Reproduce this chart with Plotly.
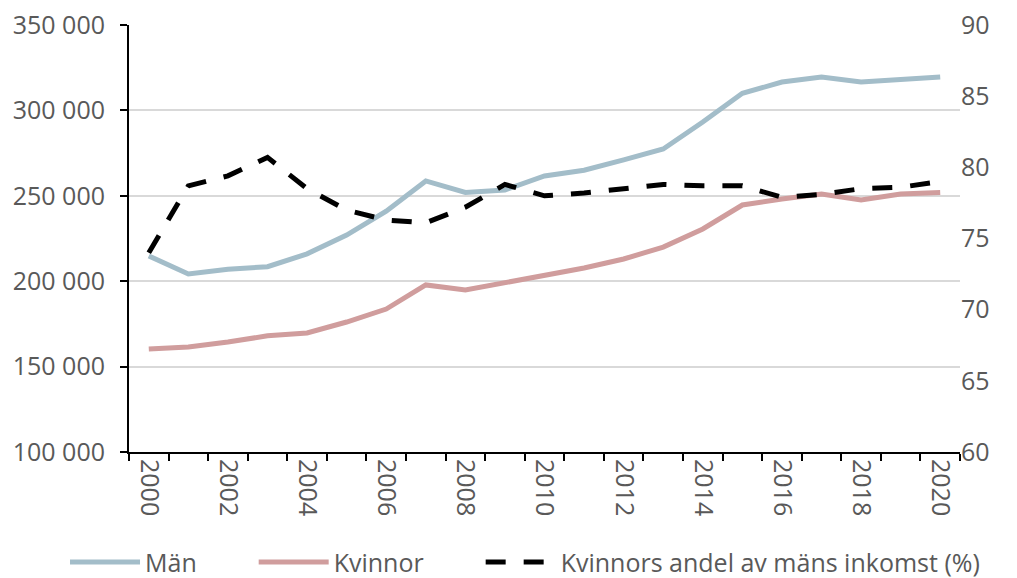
import plotly.graph_objects as go

years = list(range(2000, 2021))
man = [214800, 204200, 207000, 208500, 216000, 227000, 241000, 258700, 252000, 253400,
       261600, 265000, 271000, 277400, 293200, 310000, 316600, 319500, 316600, 318000, 319500]
kvinnor = [160300, 161500, 164400, 168000, 169700, 176100, 183700, 197800, 194800, 199000,
           203600, 207700, 213000, 220000, 230600, 244600, 248100, 251000, 247500, 251000, 252000]
andel = [74.0, 78.7, 79.4, 80.7, 78.5, 77.0, 76.3, 76.1, 77.2, 78.8,
         78.0, 78.2, 78.5, 78.8, 78.7, 78.7, 77.9, 78.1, 78.5, 78.6, 79.0]

left_ticks = [100000, 150000, 200000, 250000, 300000, 350000]
right_ticks = [60, 65, 70, 75, 80, 85, 90]
x_ticks = list(range(2000, 2021, 2))

FONT = "Open Sans"
GREY = "#595959"
FS = 25
PAD = "\u00a0" * 8

fig = go.Figure()
fig.add_trace(go.Scatter(x=years, y=man, name="Män" + PAD, mode="lines",
                         line=dict(color="#a3bdc9", width=5)))
fig.add_trace(go.Scatter(x=years, y=kvinnor, name="Kvinnor" + PAD, mode="lines",
                         line=dict(color="#d09d9d", width=5)))
fig.add_trace(go.Scatter(x=years, y=andel, name="Kvinnors andel av mäns inkomst (%)",
                         mode="lines", yaxis="y2",
                         line=dict(color="#000000", width=5, dash="20px,18px")))

fig.update_layout(
    width=1017, height=578,
    margin=dict(l=121, r=65, t=17, b=134, autoexpand=False),
    paper_bgcolor="white", plot_bgcolor="white",
    separators=", ",
    font=dict(family=FONT, size=FS, color=GREY),
    showlegend=True,
    legend=dict(orientation="h", x=-0.077, xanchor="left", y=-0.258, yanchor="middle",
                font=dict(family=FONT, size=FS, color=GREY), itemwidth=70,
                traceorder="normal", tracegroupgap=0),
    xaxis=dict(range=[1999.5, 2020.5], tickvals=x_ticks, ticktext=[str(y) for y in x_ticks],
               tickangle=90, ticks="", showgrid=False, zeroline=False, automargin=False,
               showline=True, linecolor="black", linewidth=2,
               tickfont=dict(family=FONT, size=FS, color=GREY),
               minor=dict(tick0=1999.5, dtick=1, ticks="outside", ticklen=7,
                          tickcolor="black", tickwidth=2, showgrid=False)),
    yaxis=dict(range=[100000, 350000], tickvals=left_ticks, tickformat=",d",
               showgrid=True, gridcolor="#d9d9d9", gridwidth=1.5, zeroline=False,
               showline=True, linecolor="black", linewidth=2, automargin=False,
               ticks="outside", ticklen=7, tickcolor="black", tickwidth=2,
               ticklabeloverflow="allow", ticklabelstandoff=10,
               tickfont=dict(family=FONT, size=FS, color=GREY)),
    yaxis2=dict(range=[60, 90], tickvals=right_ticks, overlaying="y", side="right",
                showgrid=False, zeroline=False, showline=False, ticks="", automargin=False,
                ticklabeloverflow="allow",
                tickfont=dict(family=FONT, size=FS, color=GREY)),
)

fig.write_html("out.html")
